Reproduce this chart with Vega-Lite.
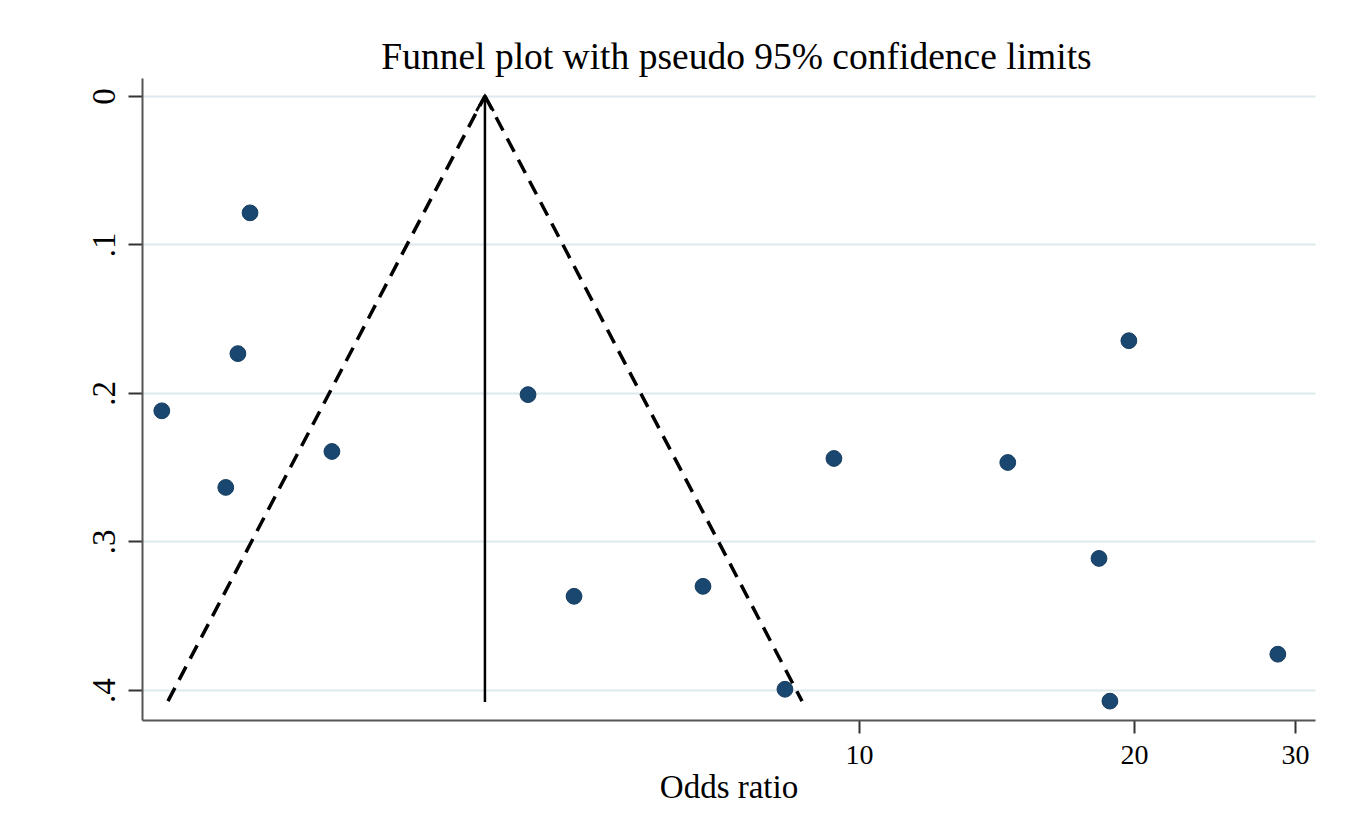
{
  "$schema": "https://vega.github.io/schema/vega-lite/v6.json",
  "width": 1173,
  "height": 642,
  "autosize": {"type": "none"},
  "padding": {"left": 142, "top": 78, "right": 37, "bottom": 106},
  "background": "white",
  "config": {"view": {"stroke": null}, "font": "Liberation Serif"},
  "title": {
    "text": "Funnel plot with pseudo 95% confidence limits",
    "font": "Liberation Serif",
    "fontSize": 37.5,
    "fontWeight": "normal",
    "color": "black",
    "anchor": "middle",
    "frame": "group",
    "baseline": "alphabetic",
    "offset": -28,
    "dx": 8
  },
  "datasets": {
    "studies": [
      {"or": 2.157, "se": 0.0787},
      {"or": 2.092, "se": 0.1735},
      {"or": 1.727, "se": 0.212},
      {"or": 2.029, "se": 0.2636},
      {"or": 2.651, "se": 0.2394},
      {"or": 4.345, "se": 0.2011},
      {"or": 4.879, "se": 0.3369},
      {"or": 6.752, "se": 0.3302},
      {"or": 8.30, "se": 0.3995},
      {"or": 9.39, "se": 0.2441},
      {"or": 14.55, "se": 0.2468},
      {"or": 19.74, "se": 0.1648},
      {"or": 18.31, "se": 0.3114},
      {"or": 18.82, "se": 0.4075},
      {"or": 28.73, "se": 0.3759}
    ],
    "limits": [
      {"side": "lower", "or": 3.898, "se": 0},
      {"side": "lower", "or": 1.754, "se": 0.4075},
      {"side": "upper", "or": 3.898, "se": 0},
      {"side": "upper", "or": 8.665, "se": 0.4075}
    ],
    "pooled": [
      {"or": 3.898, "se": 0},
      {"or": 3.898, "se": 0.408}
    ],
    "apex": [
      {"or": 3.898, "se": 0}
    ]
  },
  "layer": [
    {
      "data": {"name": "studies"},
      "mark": {"type": "point", "shape": "circle", "filled": true, "size": 250, "color": "#1a476f", "stroke": "#163d60", "strokeWidth": 1, "opacity": 1},
      "encoding": {
        "x": {
          "field": "or",
          "type": "quantitative",
          "scale": {"type": "log", "domain": [1.643, 31.55], "nice": false, "zero": false},
          "axis": {
            "values": [10, 20, 30],
            "title": "Odds ratio",
            "titleFont": "Liberation Serif",
            "titleFontSize": 33,
            "titleFontWeight": "normal",
            "titleColor": "black",
            "titlePadding": 2,
            "labelFont": "Liberation Serif",
            "labelFontSize": 28,
            "labelColor": "black",
            "labelPadding": 8,
            "labelFlush": false,
            "labelExpr": "format(datum.value, 'd')",
            "domainColor": "#555555",
            "domainWidth": 2,
            "tickColor": "#333333",
            "tickWidth": 2,
            "tickSize": 13,
            "grid": false
          }
        },
        "y": {
          "field": "se",
          "type": "quantitative",
          "scale": {"domain": [-0.0121, 0.4202], "reverse": true, "nice": false, "zero": false},
          "axis": {
            "values": [0, 0.1, 0.2, 0.3, 0.4],
            "title": null,
            "labelExpr": "datum.value == 0 ? '0' : replace(format(datum.value, '.1f'), '0.', '.')",
            "labelFont": "Liberation Serif",
            "labelFontSize": 33,
            "labelColor": "black",
            "labelAngle": 270,
            "labelAlign": "center",
            "labelBaseline": "alphabetic",
            "labelPadding": 14,
            "domainColor": "#555555",
            "domainWidth": 2,
            "tickColor": "#333333",
            "tickWidth": 2,
            "tickSize": 14,
            "grid": true,
            "gridColor": "#dde9ed",
            "gridWidth": 2
          }
        }
      }
    },
    {
      "data": {"name": "limits"},
      "mark": {"type": "line", "color": "black", "strokeWidth": 3.5, "strokeDash": [15, 9]},
      "encoding": {
        "x": {"field": "or", "type": "quantitative"},
        "y": {"field": "se", "type": "quantitative"},
        "detail": {"field": "side"}
      }
    },
    {
      "data": {"name": "pooled"},
      "mark": {"type": "line", "color": "black", "strokeWidth": 2.5},
      "encoding": {
        "x": {"field": "or", "type": "quantitative"},
        "y": {"field": "se", "type": "quantitative"}
      }
    },
    {
      "data": {"name": "apex"},
      "mark": {"type": "point", "shape": "M-0.57,1L0,0L0.57,1", "filled": false, "size": 900, "stroke": "black", "strokeWidth": 2.8, "opacity": 1},
      "encoding": {
        "x": {"field": "or", "type": "quantitative"},
        "y": {"field": "se", "type": "quantitative"}
      }
    }
  ]
}
